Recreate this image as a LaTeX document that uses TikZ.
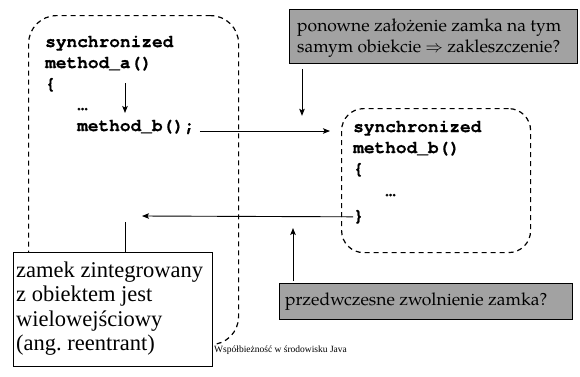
\documentclass[tikz,border=0pt]{standalone}
\usepackage{fontspec}
\setmainfont{Liberation Serif}
\newfontfamily\codefont{texgyrecursor}[Extension=.otf,UprightFont=*-bold,FakeBold=0.8]
\newfontfamily\palfont{texgyrepagella}[Extension=.otf,UprightFont=*-regular]
\usetikzlibrary{arrows.meta,calc}
\definecolor{boxgray}{RGB}{162,162,162}
\tikzset{
  dbox/.style={draw, dash pattern=on 5pt off 4pt, line width=1.2pt, inner sep=0pt, anchor=north west},
  gbox/.style={draw, fill=boxgray, line width=0.8pt, inner sep=0pt, anchor=north west},
  wbox/.style={draw, fill=white, line width=0.8pt, inner sep=0pt, anchor=north west},
  code/.style={anchor=base west, inner sep=0pt, font=\codefont\fontsize{17.8}{21}\selectfont},
  pal/.style={anchor=base west, inner sep=0pt, font=\palfont\fontsize{17.5}{21}\selectfont},
  ser/.style={anchor=base west, inner sep=0pt, font=\fontsize{22.5}{24.5}\selectfont},
  arr/.style={-{Stealth[length=7pt,width=5.5pt,inset=1.5pt]}, line width=0.9pt},
  ln/.style={line width=0.9pt}
}
\begin{document}
\begin{tikzpicture}[x=1pt,y=-1pt]
\useasboundingbox (0,0) rectangle (580,376);
% dashed method boxes
\node[dbox, rounded corners=28pt, minimum width=210pt, minimum height=329pt] (A) at (28,15) {};
\node[dbox, rounded corners=22pt, minimum width=189pt, minimum height=144pt] (B) at (341,108) {};
% gray comment boxes
\node[gbox, minimum width=288pt, minimum height=54pt] (q1) at (289,9) {};
\node[gbox, minimum width=293pt, minimum height=36pt] (q2) at (279,283) {};
% left code
\node[code] (a1) at (45,47) {synchronized};
\node[code] (a2) at (45,68) {method\_a()};
\node[code] (a3) at (45,89) {\{};
\node[code] (a4) at (77,110) {…};
\node[code] (a5) at (77,131) {method\_b();};
% right code
\node[code] (b1) at (353,132) {synchronized};
\node[code] (b2) at (353,153) {method\_b()};
\node[code] (b3) at (353,174) {\{};
\node[code] (b4) at (385,196) {…};
\node[code] (b5) at (353,221) {\}};
% gray texts
\node[pal] (t1) at (297,31) {ponowne założenie zamka na tym};
\node[pal] (t2) at (297,52) {samym obiekcie $\Rightarrow$ zakleszczenie?};
\node[pal] (t3) at (285,305) {przedwczesne zwolnienie zamka?};
% connectors
\coordinate (c1s) at (125,83);
\coordinate (c1e) at (125,113);
\draw[arr] (c1s) -- (c1e);
\coordinate (c2e) at (330,131);
\draw[arr] ($(a5.base east)+(5,0)$) -- (c2e);
\draw[arr] ($(q1.south west)+(13,5)$) -- ($(q1.south west)+(13,52)$);
\coordinate (c4e) at (142,216);
\draw[arr] (b5.west -| B.west) ++(12,0) -- (c4e);
\draw[arr] ($(q2.north west)+(14,-2)$) -- ($(q2.north west)+(14,-55)$);
% zamek box
\node[wbox, minimum width=199pt, minimum height=114pt] (Z) at (13,252) {};
\draw[ln] ($(Z.north west)+(112,0)$) -- ($(Z.north west)+(112,-30)$);
\node[ser] (z1) at (16,277) {zamek zintegrowany};
\node[ser] (z2) at (16,301.5) {z obiektem jest};
\node[ser] (z3) at (16,326) {wielowejściowy};
\node[ser] (z4) at (16,350.5) {(ang.\ reentrant)};
% footer
\node[anchor=base west, inner sep=0pt, font=\fontsize{9.5}{11}\selectfont] (foot) at (214,352) {Współbieżność w środowisku Java};
\end{tikzpicture}
\end{document}
